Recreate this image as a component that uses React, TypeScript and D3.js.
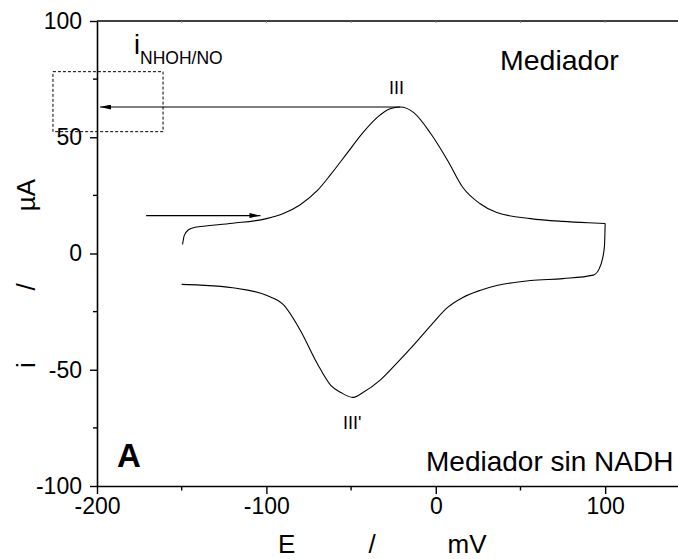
import React, { useEffect, useRef } from 'react';
import * as d3 from 'd3';

// forward (anodic) scan, mV / µA
const anodicE = [-149.5, -148.5, -146, -142, -139, -120, -100, -90, -80, -70, -62, -52, -43, -33, -27, -21, -13, -3, 7, 16, 26, 36, 56, 75, 90, 100];
const anodicI = [3.9, 7.7, 10.2, 11.3, 11.6, 13, 15, 17.2, 21, 27, 34, 43.5, 52, 59.5, 62.3, 63, 60.6, 51.6, 40, 28.4, 21.5, 17.6, 15, 13.8, 13.2, 12.9];
// reverse (cathodic) scan, starting at the +100 mV switch
const cathodicE = [100, 99.6, 98.2, 96.5, 93, 75, 56, 36, 26, 16, 7, -3, -13, -23, -33, -43, -49, -56, -62, -70, -80, -90, -100, -120, -139, -150];
const cathodicI = [12.9, 3.4, -3, -6.5, -9.3, -10.8, -11.6, -13.8, -15.9, -18.9, -23.2, -31, -39.3, -47.2, -54.6, -59.8, -61.9, -59.8, -56.7, -47.3, -33, -22, -18, -14.7, -13.6, -13.3];

const xMajor = [-200, -100, 0, 100];
const xMinor = [-150, -50, 50];
const yMajor = [-100, -50, 0, 50, 100];
const yMinor = [-75, -25, 25, 75];

const peakOx = { E: -21, i: 63 };
const scanArrow = { from: -171, to: -103.5, i: 16.3 };
const boxE = [-226, -161];
const boxI = [52.4, 78.2];

const W = 678;
const H = 559;

export default function App() {
  const svgRef = useRef<SVGSVGElement>(null);

  useEffect(() => {
    if (!svgRef.current) return;
    const svg = d3.select(svgRef.current);
    svg.selectAll('*').remove();

    const margin = { top: 21, right: 0, bottom: 73, left: 97 };
    const x = d3.scaleLinear().domain([-200, 143]).range([margin.left, W - margin.right]);
    const y = d3.scaleLinear().domain([-100, 100]).range([H - margin.bottom, margin.top]);
    const font = '"Liberation Sans", Arial, sans-serif';
    const fmt = (d: d3.NumberValue) => String(d);

    const defs = svg.append('defs');
    defs
      .append('marker')
      .attr('id', 'head')
      .attr('viewBox', '0 0 11 5')
      .attr('refX', 11)
      .attr('refY', 2.5)
      .attr('markerWidth', 11)
      .attr('markerHeight', 5)
      .attr('markerUnits', 'userSpaceOnUse')
      .attr('orient', 'auto')
      .append('path')
      .attr('d', 'M0,0L11,2.5L0,5Z')
      .attr('fill', '#000');

    // Bottom axis
    const bottom = svg
      .append('g')
      .attr('transform', `translate(0,${y(-100)})`)
      .call(d3.axisBottom(x).tickValues(xMajor).tickSize(8).tickSizeOuter(0).tickPadding(4).tickFormat(fmt));
    bottom.select('.domain').attr('stroke-width', 1.6);
    bottom.selectAll('.tick line').attr('stroke-width', 1.4);
    bottom.selectAll('.tick text').attr('font-size', 23).attr('font-family', font).attr('fill', '#000');
    svg
      .append('g')
      .selectAll('line')
      .data(xMinor)
      .join('line')
      .attr('x1', (d) => x(d))
      .attr('x2', (d) => x(d))
      .attr('y1', y(-100))
      .attr('y2', y(-100) + 4.5)
      .attr('stroke', '#000')
      .attr('stroke-width', 1.4);

    // Left axis
    const left = svg
      .append('g')
      .attr('transform', `translate(${margin.left},0)`)
      .call(d3.axisLeft(y).tickValues(yMajor).tickSize(7).tickSizeOuter(0).tickPadding(8).tickFormat(fmt));
    left.select('.domain').attr('stroke-width', 1.6);
    left.selectAll('.tick line').attr('stroke-width', 1.4);
    left.selectAll('.tick text').attr('font-size', 23).attr('font-family', font).attr('fill', '#000');
    svg
      .append('g')
      .selectAll('line')
      .data(yMinor)
      .join('line')
      .attr('x1', margin.left - 4)
      .attr('x2', margin.left)
      .attr('y1', (d) => y(d))
      .attr('y2', (d) => y(d))
      .attr('stroke', '#000')
      .attr('stroke-width', 1.4);

    // Top frame line with faint ticks
    svg
      .append('line')
      .attr('x1', margin.left)
      .attr('x2', W)
      .attr('y1', y(100))
      .attr('y2', y(100))
      .attr('stroke', '#000')
      .attr('stroke-width', 1.6);
    svg
      .append('g')
      .selectAll('line')
      .data([...xMajor, ...xMinor].filter((d) => d > -200))
      .join('line')
      .attr('x1', (d) => x(d))
      .attr('x2', (d) => x(d))
      .attr('y1', y(100))
      .attr('y2', y(100) + 2)
      .attr('stroke', '#888')
      .attr('stroke-width', 1);

    // Voltammogram: two branches, each monotone in E
    const line = d3
      .line<[number, number]>()
      .x((d) => x(d[0]))
      .y((d) => y(d[1]))
      .curve(d3.curveMonotoneX);
    const fwd = anodicE.map((e, k) => [e, anodicI[k]] as [number, number]);
    const rev = cathodicE.map((e, k) => [e, cathodicI[k]] as [number, number]).reverse();
    [fwd, rev].forEach((pts) => {
      svg
        .append('path')
        .datum(pts)
        .attr('d', line)
        .attr('fill', 'none')
        .attr('stroke', '#000')
        .attr('stroke-width', 1.1)
        .attr('stroke-linejoin', 'round');
    });

    // Arrows
    svg
      .append('line')
      .attr('x1', x(peakOx.E))
      .attr('x2', x(-198.2))
      .attr('y1', y(peakOx.i))
      .attr('y2', y(peakOx.i))
      .attr('stroke', '#000')
      .attr('stroke-width', 1.1)
      .attr('marker-end', 'url(#head)');
    svg
      .append('line')
      .attr('x1', x(scanArrow.from))
      .attr('x2', x(scanArrow.to))
      .attr('y1', y(scanArrow.i))
      .attr('y2', y(scanArrow.i))
      .attr('stroke', '#000')
      .attr('stroke-width', 1.1)
      .attr('marker-end', 'url(#head)');

    // Dashed box
    svg
      .append('rect')
      .attr('x', x(boxE[0]))
      .attr('y', y(boxI[1]))
      .attr('width', x(boxE[1]) - x(boxE[0]))
      .attr('height', y(boxI[0]) - y(boxI[1]))
      .attr('fill', 'none')
      .attr('stroke', '#000')
      .attr('stroke-width', 1)
      .attr('stroke-dasharray', '3,2');

    const txt = (s: string, tx: number, ty: number, size: number, extra?: (t: any) => void) => {
      const t = svg
        .append('text')
        .attr('x', tx)
        .attr('y', ty)
        .attr('font-size', size)
        .attr('font-family', font)
        .attr('fill', '#000')
        .text(s);
      if (extra) extra(t);
      return t;
    };

    // Annotations
    const iLab = svg.append('text').attr('x', 134).attr('y', 54).attr('font-family', font).attr('fill', '#000');
    iLab.append('tspan').attr('font-size', 27).text('i');
    iLab.append('tspan').attr('font-size', 17.5).attr('dy', 10).text('NHOH/NO');

    txt('Mediador', 500, 70, 28.5);
    txt('Mediador sin NADH', 426, 471, 28);
    txt('III', 389, 94, 18);
    txt("III'", 343, 429, 18);
    txt('A', 117, 467, 33, (t) => t.attr('font-weight', 'bold'));

    // Axis titles
    txt('E', 278, 553, 26);
    txt('/', 372, 553, 26, (t) => t.attr('text-anchor', 'middle'));
    txt('mV', 467, 553, 26, (t) => t.attr('text-anchor', 'middle'));

    const yl = [
      { s: 'i', c: 365 },
      { s: '/', c: 287 },
      { s: 'µA', c: 195 },
    ];
    yl.forEach((d) => {
      svg
        .append('text')
        .attr('transform', `translate(35,${d.c}) rotate(-90)`)
        .attr('text-anchor', 'middle')
        .attr('font-size', 26)
        .attr('font-family', font)
        .attr('fill', '#000')
        .text(d.s);
    });
  }, []);

  return (
    <svg
      ref={svgRef}
      width={W}
      height={H}
      style={{ position: 'absolute', left: 0, top: 0, background: '#fff' }}
    ></svg>
  );
}
